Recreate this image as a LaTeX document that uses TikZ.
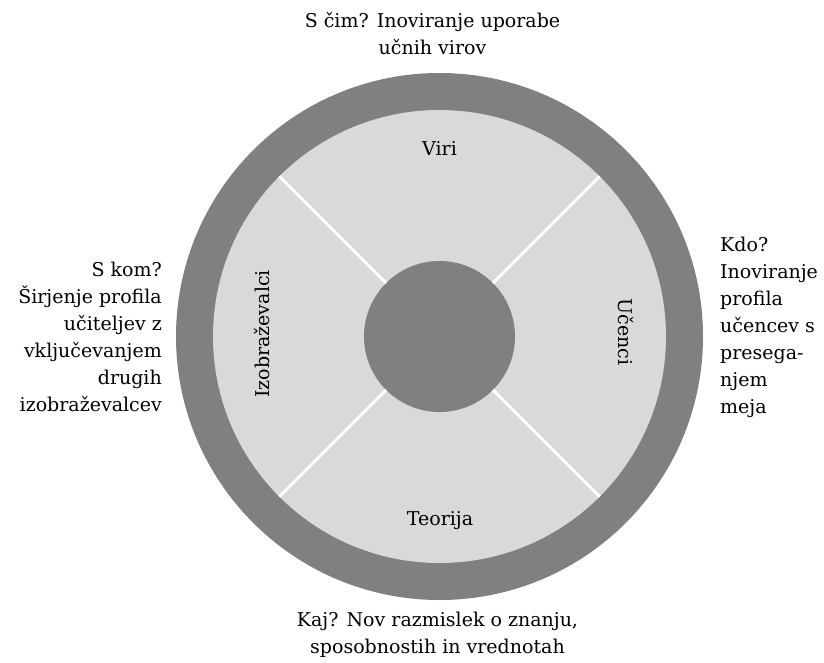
\documentclass[tikz,border=0pt]{standalone}
\usepackage{fontspec}
\setmainfont{DejaVu Serif}
\usepackage{tikz}
\usetikzlibrary{positioning}
\definecolor{ringgray}{gray}{0.5}
\definecolor{fieldgray}{gray}{0.85}
\tikzset{
    raw disc/.style={circle, inner sep=0pt, outer sep=0pt},
    ring disc/.style={raw disc, fill=ringgray},
    field disc/.style={raw disc, fill=fieldgray},
    raw label/.style={font=\fontsize{19}{27}\selectfont, inner sep=0pt},
    field label/.style={raw label, align=center},
    side label/.style={raw label},
    spoke/.style={draw=white, line width=3pt}
}

\begin{document}
\begin{tikzpicture}[x=1pt,y=-1pt]
	\useasboundingbox (0,0) rectangle (824,662);
	\coordinate (centre) at (439.5,336.5);
	% discs
	\node[ring disc, minimum size=527pt] (ring) at (centre) {};
	\node[field disc, minimum size=453pt] (field) at (centre) {};
	\node[ring disc, minimum size=151pt] (hub) at (centre) {};
	% spokes
	\draw[spoke] (hub.45) -- (field.45);
	\draw[spoke] (hub.135) -- (field.135);
	\draw[spoke] (hub.225) -- (field.225);
	\draw[spoke] (hub.315) -- (field.315);
	% field names
	\node[field label, anchor=base] (viri) at (439.5,155) {Viri};
	\node[field label, anchor=base] (teorija) at (440,525) {Teorija};
	\node[field label, rotate=90] (izobr) at (262,334) {Izobraževalci};
	\node[field label, rotate=-90] (ucenci) at (626,332) {Učenci};
	% questions round the ring
	\node[side label, align=center, above=18pt of ring.north, xshift=-7pt] (scim)
		{S čim? Inoviranje uporabe\\učnih virov};
	\node[side label, align=center, below=12pt of ring.south, xshift=-2pt] (kaj)
		{Kaj? Nov razmislek o znanju,\\sposobnostih in vrednotah};
	\node[side label, align=right, left=14pt of ring.west] (skom)
		{S kom?\\Širjenje profila\\učiteljev z\\vključevanjem\\drugih\\izobraževalcev};
	\node[side label, align=left, right=17pt of ring.east, yshift=9pt] (kdo)
		{Kdo?\\Inoviranje\\profila\\učencev s\\presega-\\njem\\meja};
\end{tikzpicture}
\end{document}
